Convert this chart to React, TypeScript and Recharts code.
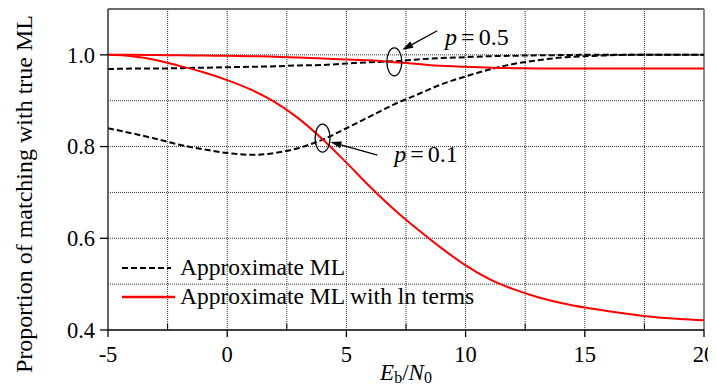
import React from 'react';
import { LineChart, Line, XAxis, YAxis, ReferenceLine, ReferenceDot, ReferenceArea } from 'recharts';

const ebn0 = [-5, -4, -3, -2, -1, 0, 1, 2, 3, 4, 5, 6, 7, 8, 9, 10, 11, 12, 13, 14, 15, 16, 17, 18, 19, 20];
// Approximate ML, p = 0.5
const approxP05 = [0.969, 0.970, 0.970, 0.971, 0.972, 0.973, 0.974, 0.975, 0.977, 0.978, 0.981, 0.984, 0.986, 0.990, 0.993, 0.995, 0.997, 0.998, 0.999, 0.9995, 1.0, 1.0, 1.0, 1.0, 1.0, 1.0];
// Approximate ML, p = 0.1
const approxP01 = [0.840, 0.829, 0.817, 0.804, 0.794, 0.786, 0.782, 0.786, 0.797, 0.815, 0.840, 0.866, 0.892, 0.914, 0.936, 0.953, 0.968, 0.980, 0.988, 0.994, 0.997, 0.999, 1.0, 1.0, 1.0, 1.0];
// Approximate ML with ln terms, p = 0.5
const lnP05 = [1.0, 1.0, 0.9995, 0.999, 0.9985, 0.998, 0.997, 0.996, 0.994, 0.992, 0.990, 0.988, 0.984, 0.980, 0.976, 0.974, 0.972, 0.971, 0.9705, 0.970, 0.970, 0.970, 0.970, 0.970, 0.970, 0.970];
// Approximate ML with ln terms, p = 0.1
const lnP01 = [1.0, 0.997, 0.989, 0.976, 0.962, 0.945, 0.924, 0.897, 0.861, 0.816, 0.765, 0.712, 0.663, 0.619, 0.578, 0.541, 0.511, 0.489, 0.472, 0.459, 0.449, 0.441, 0.434, 0.428, 0.424, 0.421];

const xTicks = [-5, 0, 5, 10, 15, 20];
const yTicks = [0.4, 0.6, 0.8, 1.0];
const xGrid = [-2.5, 0, 2.5, 5, 7.5, 10, 12.5, 15, 17.5];
const yGrid = [0.5, 0.6, 0.7, 0.8, 0.9, 1.0];
const xMinorTicks = [-2.5, 2.5, 7.5, 12.5, 17.5];

const legendLabels = ['Approximate ML', 'Approximate ML with ln terms'];

const rows = ebn0.map((x, i) => ({
  x,
  a05: approxP05[i],
  a01: approxP01[i],
  l05: lnP05[i],
  l01: lnP01[i],
}));

const FONT = "'Liberation Serif', 'Times New Roman', Times, serif";

const Arrow = (props: any) => {
  const { x1, y1, x2, y2 } = props;
  const dx = x2 - x1;
  const dy = y2 - y1;
  const len = Math.sqrt(dx * dx + dy * dy) || 1;
  const ux = dx / len;
  const uy = dy / len;
  const hl = 11;
  const hw = 3.5;
  const bx = x2 - ux * hl;
  const by = y2 - uy * hl;
  const pts = `${x2},${y2} ${bx - uy * hw},${by + ux * hw} ${bx + uy * hw},${by - ux * hw}`;
  return (
    <g>
      <line x1={x1} y1={y1} x2={bx} y2={by} stroke="#000" strokeWidth={1.3} />
      <polygon points={pts} fill="#000" />
    </g>
  );
};

const Ellipse = (props: any) => {
  const { cx, cy } = props;
  return <ellipse cx={cx} cy={cy} rx={7.5} ry={14} fill="none" stroke="#000" strokeWidth={1.3} />;
};

const pLabel = (value: string) => (props: any) => {
  const { cx, cy } = props;
  return (
    <text x={cx} y={cy} fontSize={24} style={{ fontFamily: FONT }} fill="#000">
      <tspan fontStyle="italic">p</tspan>
      <tspan dx={4}>=</tspan>
      <tspan dx={4}>{value}</tspan>
    </text>
  );
};

const XTick = (props: any) => {
  const { x, y, payload } = props;
  return (
    <text x={x} y={y} dy="0.71em" textAnchor="middle" fontSize={22.5} style={{ fontFamily: FONT }} fill="#000">
      {String(payload.value)}
    </text>
  );
};

const YTick = (props: any) => {
  const { x, y, payload } = props;
  return (
    <text x={x} y={y} dy="0.35em" textAnchor="end" fontSize={22.5} style={{ fontFamily: FONT }} fill="#000">
      {Number(payload.value).toFixed(1)}
    </text>
  );
};

const XLabel = (props: any) => {
  const vb = props.viewBox || { x: 100, width: 596 };
  const cx = vb.x + vb.width / 2;
  return (
    <text x={cx} y={372} textAnchor="middle" fontSize={23} style={{ fontFamily: FONT }} fill="#000">
      <tspan fontStyle="italic">E</tspan>
      <tspan fontSize={16} dy={3}>b</tspan>
      <tspan dy={-3}>/</tspan>
      <tspan fontStyle="italic">N</tspan>
      <tspan fontSize={16} dy={3}>0</tspan>
    </text>
  );
};

const YLabel = () => (
  <text
    x={16}
    y={186}
    transform="rotate(-90 16 186)"
    textAnchor="middle"
    dominantBaseline="central"
    fontSize={24}
    style={{ fontFamily: FONT }}
    fill="#000"
  >
    Proportion of matching with true ML
  </text>
);

export default function App() {
  return (
    <div style={{ position: 'relative', width: 708, height: 379, fontFamily: FONT }}>
      <LineChart
        width={708}
        height={379}
        data={rows}
        margin={{ top: 1, right: 12, left: 0, bottom: 17 }}
        style={{ fontFamily: FONT, overflow: 'visible' }}
      >
        {xGrid.map((v) => (
          <ReferenceLine key={'gx' + v} x={v} stroke="#333" strokeWidth={1} strokeDasharray="1 1" />
        ))}
        {yGrid.map((v) => (
          <ReferenceLine key={'gy' + v} y={v} stroke="#333" strokeWidth={1} strokeDasharray="1 1" />
        ))}
        <ReferenceArea x1={-2.1} x2={10.3} y1={0.4405} y2={0.565} fill="#fff" fillOpacity={1} stroke="none" />
        <ReferenceArea x1={6.38} x2={10.73} y1={0.742} y2={0.862} fill="#fff" fillOpacity={1} stroke="none" />
        <ReferenceArea x1={8.9} x2={12.24} y1={1.0066} y2={1.098} fill="#fff" fillOpacity={1} stroke="none" />
        {xMinorTicks.map((v) => (
          <ReferenceLine
            key={'mt' + v}
            segment={[{ x: v, y: 0.4 }, { x: v, y: 0.4135 }]}
            stroke="#000"
            strokeWidth={1}
          />
        ))}
        <ReferenceLine y={1.1} stroke="#6a6a6a" strokeWidth={2} />
        <ReferenceLine x={20} stroke="#888" strokeWidth={2} />
        <XAxis
          dataKey="x"
          type="number"
          domain={[-5, 20]}
          ticks={xTicks}
          allowDataOverflow
          height={40}
          tickSize={7}
          tickMargin={9}
          axisLine={{ stroke: '#000', strokeWidth: 1.3 }}
          tickLine={{ stroke: '#000', strokeWidth: 1.3 }}
          tick={XTick}
          label={XLabel}
        />
        <YAxis
          type="number"
          domain={[0.4, 1.1]}
          ticks={yTicks}
          allowDataOverflow
          width={100}
          tickSize={8}
          tickMargin={5}
          axisLine={{ stroke: '#333', strokeWidth: 1.5 }}
          tickLine={{ stroke: '#000', strokeWidth: 1.3 }}
          tick={YTick}
          label={YLabel}
        />
        <Line type="monotone" dataKey="a05" stroke="#000" strokeWidth={2} strokeDasharray="6 3" dot={false} isAnimationActive={false} />
        <Line type="monotone" dataKey="a01" stroke="#000" strokeWidth={2} strokeDasharray="6 3" dot={false} isAnimationActive={false} />
        <Line type="monotone" dataKey="l05" stroke="#ff0000" strokeWidth={2} dot={false} isAnimationActive={false} />
        <Line type="monotone" dataKey="l01" stroke="#ff0000" strokeWidth={2} dot={false} isAnimationActive={false} />
        <ReferenceDot x={7.01} y={0.9847} r={0} shape={Ellipse} ifOverflow="visible" />
        <ReferenceDot x={4.0} y={0.8186} r={0} shape={Ellipse} ifOverflow="visible" />
        <ReferenceLine segment={[{ x: 8.81, y: 1.0525 }, { x: 7.34, y: 1.011 }]} shape={Arrow} ifOverflow="visible" />
        <ReferenceLine segment={[{ x: 6.3, y: 0.7814 }, { x: 4.33, y: 0.81 }]} shape={Arrow} ifOverflow="visible" />
        <ReferenceDot x={9.14} y={1.0219} r={0} shape={pLabel('0.5')} ifOverflow="visible" />
        <ReferenceDot x={7.01} y={0.766} r={0} shape={pLabel('0.1')} ifOverflow="visible" />
      </LineChart>
      <svg
        width={370}
        height={70}
        style={{ position: 'absolute', left: 110, top: 240, pointerEvents: 'none', overflow: 'visible' }}
      >
        <line x1={4} y1={20} x2={53} y2={20} stroke="#000" strokeWidth={2} strokeDasharray="6 3" />
        <line x1={4} y1={49} x2={57} y2={49} stroke="#ff0000" strokeWidth={2.5} />
        <text x={62} y={27} fontSize={23.5} style={{ fontFamily: FONT }} fill="#000">{legendLabels[0]}</text>
        <text x={62} y={56} fontSize={23.5} style={{ fontFamily: FONT }} fill="#000">{legendLabels[1]}</text>
      </svg>
    </div>
  );
}
